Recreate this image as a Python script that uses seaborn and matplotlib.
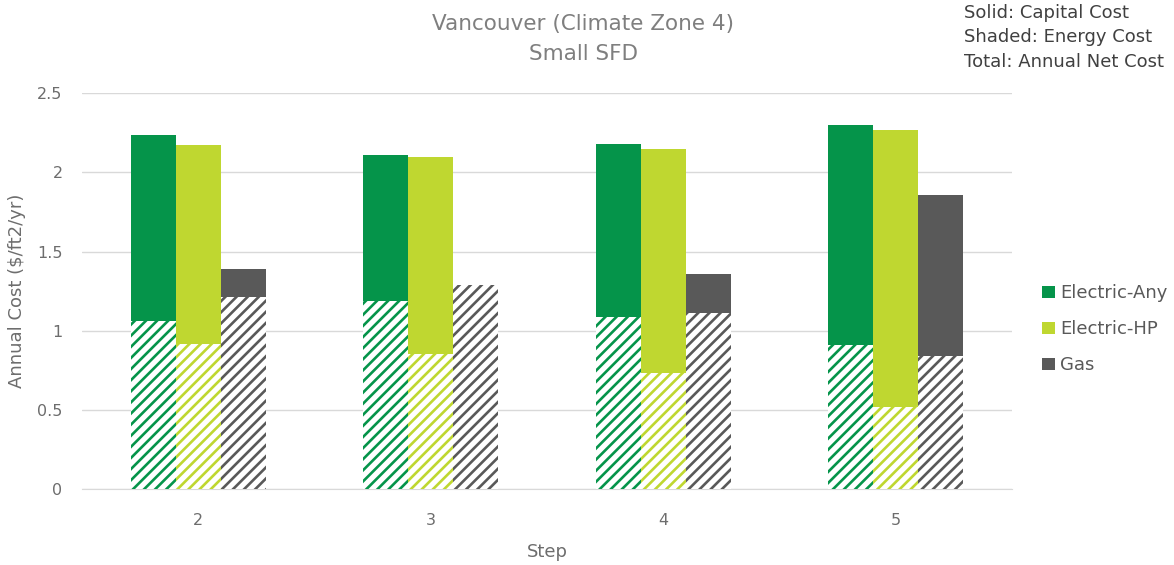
import matplotlib
matplotlib.use("Agg")
import matplotlib.pyplot as plt
import seaborn as sns
import pandas as pd
from matplotlib.patches import Patch

# Annual cost components ($/ft2/yr) by step and system type
steps = ["2", "3", "4", "5"]
systems = ["Electric-Any", "Electric-HP", "Gas"]
energy_any = [1.06, 1.19, 1.085, 0.91]
energy_hp = [0.915, 0.85, 0.73, 0.52]
energy_gas = [1.21, 1.29, 1.11, 0.84]
capital_any = [1.175, 0.92, 1.095, 1.39]
capital_hp = [1.255, 1.25, 1.415, 1.745]
capital_gas = [0.18, 0.0, 0.25, 1.02]

colors = ["#05944a", "#bfd730", "#595959"]

rows = []
for sys_name, en, cap in zip(systems,
                             [energy_any, energy_hp, energy_gas],
                             [capital_any, capital_hp, capital_gas]):
    for s, e, c in zip(steps, en, cap):
        rows.append({"Step": s, "System": sys_name, "Energy": e, "Total": e + c})
df = pd.DataFrame(rows)

sns.set_style("white")
plt.rcParams["font.family"] = ["DejaVu Sans"]
plt.rcParams["hatch.linewidth"] = 1.9

fig = plt.figure(figsize=(11.74, 5.65), dpi=100)
ax = fig.add_axes([0.0698, 0.1345, 0.7922, 0.7005])

bar_w = 0.58
# Solid bars: total annual net cost
sns.barplot(data=df, x="Step", y="Total", hue="System", order=steps,
            hue_order=systems, palette=colors, width=bar_w, gap=0,
            saturation=1, errorbar=None, ax=ax, legend=False,
            edgecolor="none", zorder=2)
n_solid = len(ax.patches)
# Shaded bars: energy cost portion
sns.barplot(data=df, x="Step", y="Energy", hue="System", order=steps,
            hue_order=systems, palette=colors, width=bar_w, gap=0,
            saturation=1, errorbar=None, ax=ax, legend=False, zorder=3)
for p in ax.patches[n_solid:]:
    col = p.get_facecolor()
    p.set_facecolor("white")
    p.set_edgecolor(col)
    p.set_hatch("///")
    p.set_linewidth(0)

ax.set_ylim(0, 2.5)
ax.set_yticks([0, 0.5, 1, 1.5, 2, 2.5])
ax.set_yticklabels(["0", "0.5", "1", "1.5", "2", "2.5"])
ax.grid(axis="y", color="#d9d9d9", linewidth=1, zorder=0)
ax.set_axisbelow(True)
for side in ["top", "right", "left"]:
    ax.spines[side].set_visible(False)
ax.spines["bottom"].set_color("#d9d9d9")
ax.tick_params(axis="y", length=0, labelsize=11.5, colors="#6d6d6d", pad=14)
ax.tick_params(axis="x", length=0, labelsize=11.5, colors="#6d6d6d", pad=17)

ax.set_xlabel("Step", fontsize=13, color="#6d6d6d", labelpad=11)
ax.set_ylabel("Annual Cost ($/ft2/yr)", fontsize=13, color="#6d6d6d", labelpad=8)

fig.text(0.497, 0.975, "Vancouver (Climate Zone 4)\nSmall SFD", ha="center", va="top",
         fontsize=15.5, color="#7f7f7f", linespacing=1.6)
fig.text(0.821, 0.993, "Solid: Capital Cost\nShaded: Energy Cost\nTotal: Annual Net Cost",
         ha="left", va="top", fontsize=13, color="#404040", linespacing=1.45)

handles = [Patch(facecolor=c, edgecolor="none") for c in colors]
fig.legend(handles, systems, loc="center left", bbox_to_anchor=(0.874, 0.417),
           frameon=False, fontsize=13, labelcolor="#595959", handlelength=0.7,
           handleheight=0.7, handletextpad=0.3, labelspacing=1.0)

fig.savefig("out.png", dpi=100)
